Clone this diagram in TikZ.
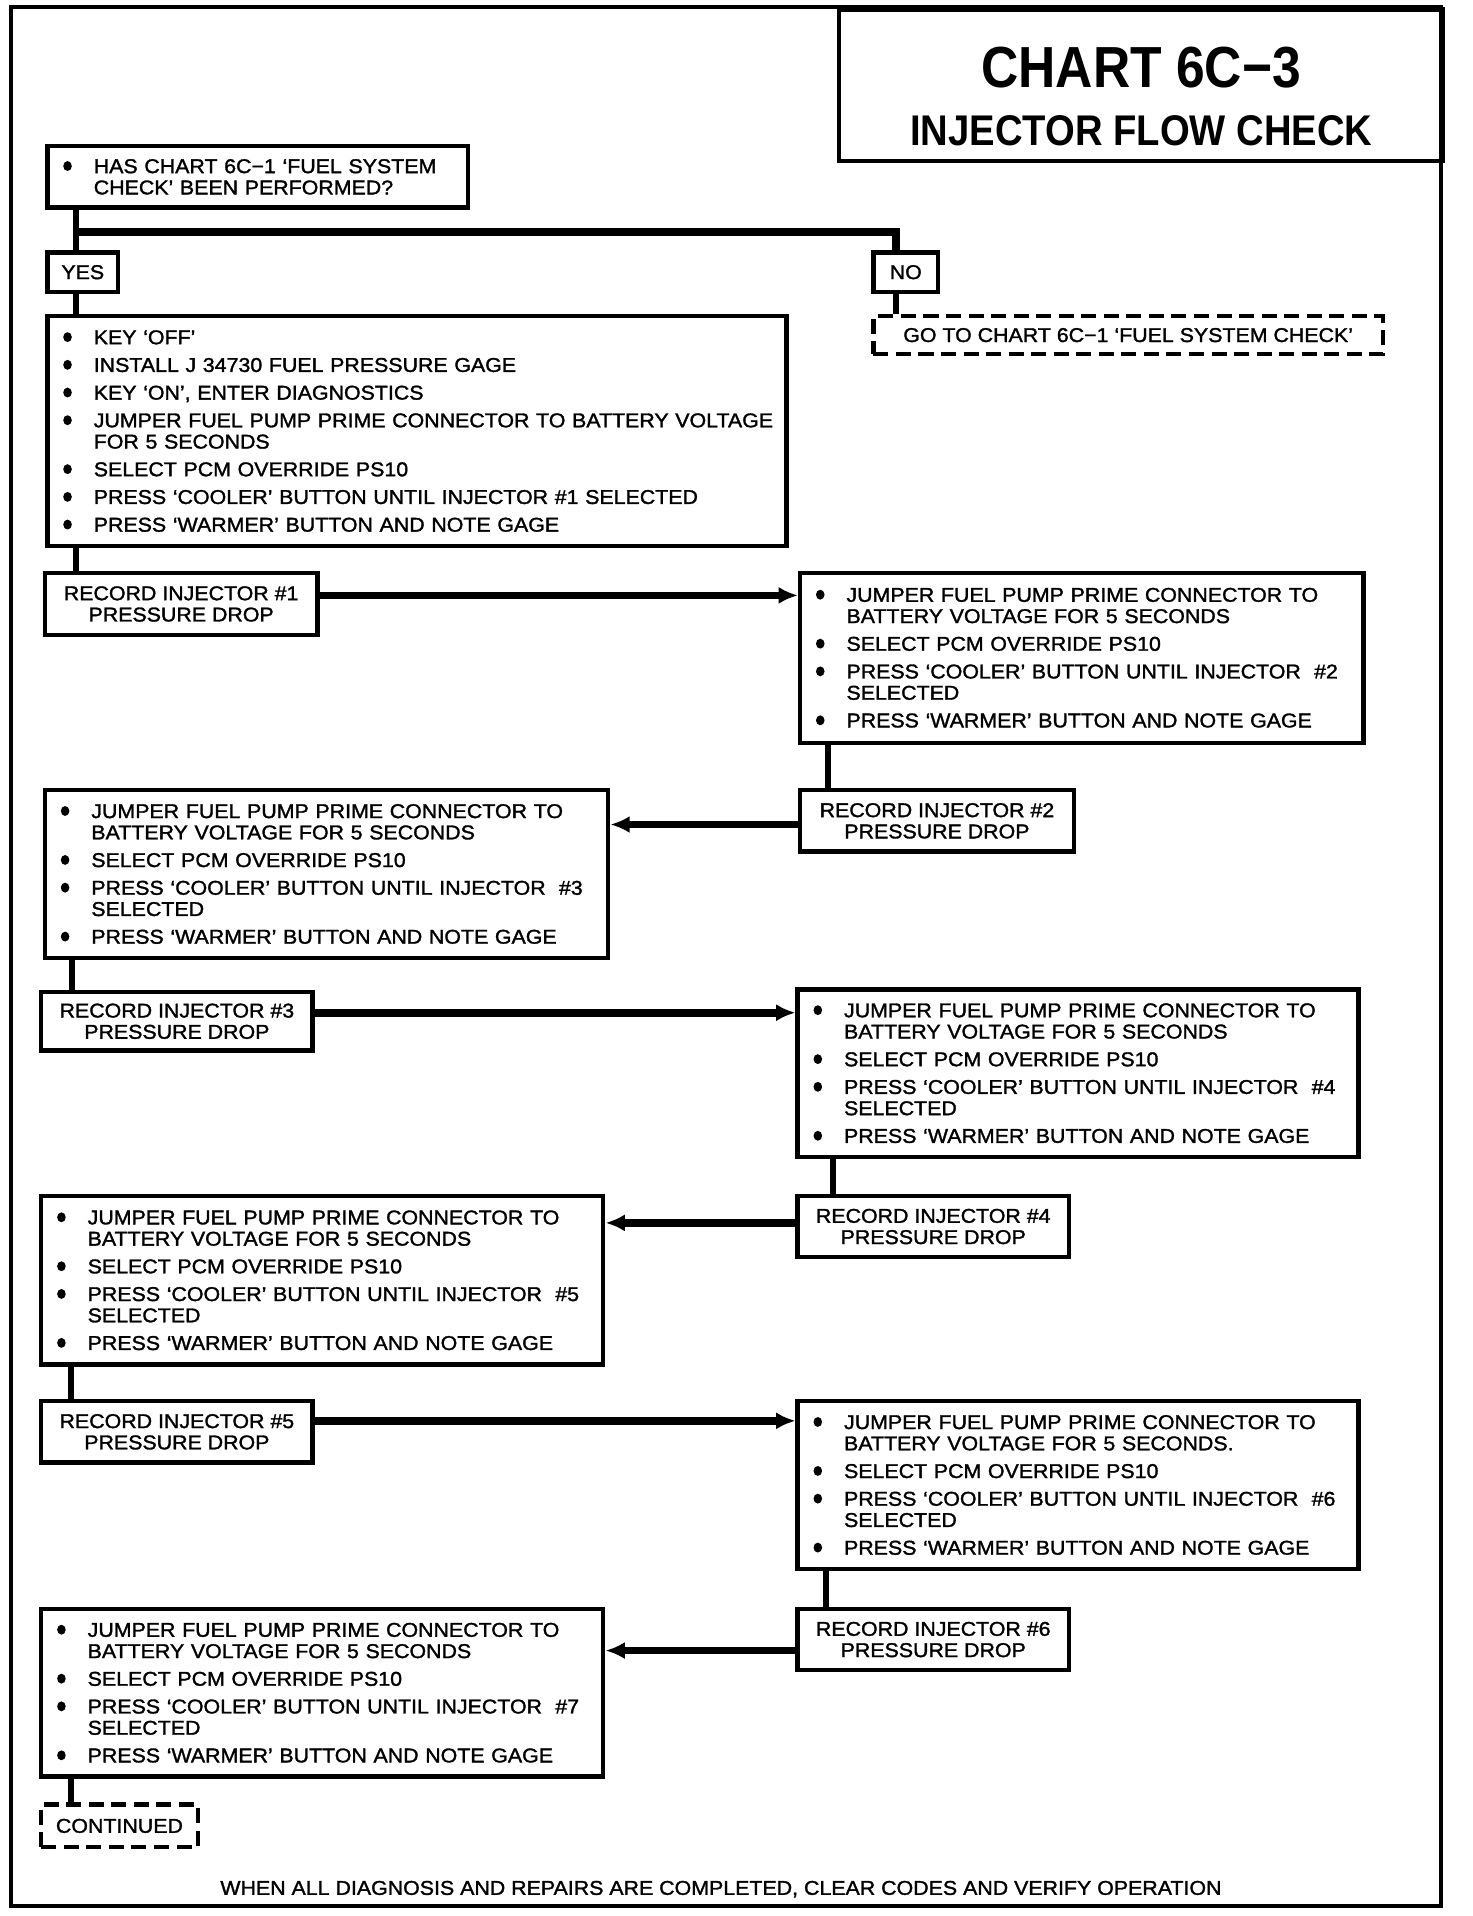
\documentclass[tikz,border=0pt]{standalone}
\usepackage{fontspec}
\setmainfont[FakeStretch=1.07, FakeBold=1.5]{Liberation Sans}
\newfontfamily\titlefont[FakeStretch=0.89]{Liberation Sans}
\usetikzlibrary{arrows.meta, positioning}

\newlength\px
\setlength\px{0.02cm}
\newcommand{\bodyfnt}{\fontsize{9.3}{9.9}\selectfont}
\newcommand{\bul}{\hspace*{13\px}\makebox[25\px][l]{\tikz[baseline=-3.3pt]\fill (0,0) ellipse (2pt and 2.3pt);}}
\newcommand{\ind}{\hspace*{38\px}}

\tikzset{
  box/.style={draw, line width=2pt, anchor=north west, inner sep=0pt, font=\bodyfnt},
  listbox/.style={box, align=left},
  recbox/.style={box, align=center},
  dashbox/.style={box, dash pattern=on 7pt off 3.5pt},
  link/.style={line width=2.8pt},
  branch/.style={line width=3.6pt},
  flow/.style={line width=3.6pt, -{Latex[length=9pt,width=8pt]}},
}

\begin{document}
\begin{tikzpicture}[x=0.02cm, y=-0.02cm]
    \useasboundingbox (0,0) rectangle (1205,1568);
    \draw[line width=2pt] (9,6) rectangle (1179,1560);

    % title
    \node[box, minimum width=494\px, minimum height=124\px] (title) at (685,6) {};
    \node[font=\titlefont\bfseries\fontsize{27}{30}\selectfont] (chart) at (934,55) {CHART 6C−3};
    \node[font=\titlefont\bfseries\fontsize{20}{22}\selectfont] (name) at (934,107) {INJECTOR FLOW CHECK};

    % question
    \node[listbox, text width=344\px, minimum height=50\px] (q) at (37,118)
        {\bul HAS CHART 6C−1 `FUEL SYSTEM\\\ind CHECK' BEEN PERFORMED?};
    \node[recbox, minimum width=58\px, minimum height=32\px] (yes) at (37,205) {YES};
    \node[recbox, minimum width=53\px, minimum height=32\px] (no) at (713,205) {NO};
    \node[dashbox, minimum width=417\px, minimum height=31\px] (goto) at (713,257)
        {GO TO CHART 6C−1 `FUEL SYSTEM CHECK'};

    % injector 1
    \node[listbox, text width=605\px, minimum height=188\px] (a) at (37,257)
        {\bul KEY `OFF'\\[3pt]
         \bul INSTALL J 34730 FUEL PRESSURE GAGE\\[3pt]
         \bul KEY `ON', ENTER DIAGNOSTICS\\[3pt]
         \bul JUMPER FUEL PUMP PRIME CONNECTOR TO BATTERY VOLTAGE\\\ind FOR 5 SECONDS\\[3pt]
         \bul SELECT PCM OVERRIDE PS10\\[3pt]
         \bul PRESS `COOLER' BUTTON UNTIL INJECTOR \#1 SELECTED\\[3pt]
         \bul PRESS `WARMER' BUTTON AND NOTE GAGE};
    \node[recbox, minimum width=223\px, minimum height=51\px] (r1) at (35,467)
        {RECORD INJECTOR \#1\\PRESSURE DROP};

    % injector 2
    \node[listbox, text width=461\px, minimum height=139\px] (b2) at (653,467)
        {\bul JUMPER FUEL PUMP PRIME CONNECTOR TO\\\ind BATTERY VOLTAGE FOR 5 SECONDS\\[3pt]
         \bul SELECT PCM OVERRIDE PS10\\[3pt]
         \bul PRESS `COOLER' BUTTON UNTIL INJECTOR\ \ \#2\\\ind SELECTED\\[3pt]
         \bul PRESS `WARMER' BUTTON AND NOTE GAGE};
    \node[recbox, minimum width=224\px, minimum height=50\px] (r2) at (653,645)
        {RECORD INJECTOR \#2\\PRESSURE DROP};

    % injector 3
    \node[listbox, text width=461\px, minimum height=137\px] (b3) at (35,645)
        {\bul JUMPER FUEL PUMP PRIME CONNECTOR TO\\\ind BATTERY VOLTAGE FOR 5 SECONDS\\[3pt]
         \bul SELECT PCM OVERRIDE PS10\\[3pt]
         \bul PRESS `COOLER' BUTTON UNTIL INJECTOR\ \ \#3\\\ind SELECTED\\[3pt]
         \bul PRESS `WARMER' BUTTON AND NOTE GAGE};
    \node[recbox, minimum width=222\px, minimum height=48\px] (r3) at (32,810)
        {RECORD INJECTOR \#3\\PRESSURE DROP};

    % injector 4
    \node[listbox, text width=459\px, minimum height=137\px] (b4) at (651,808)
        {\bul JUMPER FUEL PUMP PRIME CONNECTOR TO\\\ind BATTERY VOLTAGE FOR 5 SECONDS\\[3pt]
         \bul SELECT PCM OVERRIDE PS10\\[3pt]
         \bul PRESS `COOLER' BUTTON UNTIL INJECTOR\ \ \#4\\\ind SELECTED\\[3pt]
         \bul PRESS `WARMER' BUTTON AND NOTE GAGE};
    \node[recbox, minimum width=222\px, minimum height=50\px] (r4) at (651,977)
        {RECORD INJECTOR \#4\\PRESSURE DROP};

    % injector 5
    \node[listbox, text width=460\px, minimum height=138\px] (b5) at (32,977)
        {\bul JUMPER FUEL PUMP PRIME CONNECTOR TO\\\ind BATTERY VOLTAGE FOR 5 SECONDS\\[3pt]
         \bul SELECT PCM OVERRIDE PS10\\[3pt]
         \bul PRESS `COOLER' BUTTON UNTIL INJECTOR\ \ \#5\\\ind SELECTED\\[3pt]
         \bul PRESS `WARMER' BUTTON AND NOTE GAGE};
    \node[recbox, minimum width=222\px, minimum height=50\px] (r5) at (32,1145)
        {RECORD INJECTOR \#5\\PRESSURE DROP};

    % injector 6
    \node[listbox, text width=459\px, minimum height=137\px] (b6) at (651,1145)
        {\bul JUMPER FUEL PUMP PRIME CONNECTOR TO\\\ind BATTERY VOLTAGE FOR 5 SECONDS.\\[3pt]
         \bul SELECT PCM OVERRIDE PS10\\[3pt]
         \bul PRESS `COOLER' BUTTON UNTIL INJECTOR\ \ \#6\\\ind SELECTED\\[3pt]
         \bul PRESS `WARMER' BUTTON AND NOTE GAGE};
    \node[recbox, minimum width=222\px, minimum height=50\px] (r6) at (651,1315)
        {RECORD INJECTOR \#6\\PRESSURE DROP};

    % injector 7
    \node[listbox, text width=460\px, minimum height=137\px] (b7) at (32,1315)
        {\bul JUMPER FUEL PUMP PRIME CONNECTOR TO\\\ind BATTERY VOLTAGE FOR 5 SECONDS\\[3pt]
         \bul SELECT PCM OVERRIDE PS10\\[3pt]
         \bul PRESS `COOLER' BUTTON UNTIL INJECTOR\ \ \#7\\\ind SELECTED\\[3pt]
         \bul PRESS `WARMER' BUTTON AND NOTE GAGE};
    \node[dashbox, minimum width=128\px, minimum height=35\px] (cont) at (32,1475) {CONTINUED};

    \node[font=\bodyfnt] (note) at (590,1546)
        {WHEN ALL DIAGNOSIS AND REPAIRS ARE COMPLETED, CLEAR CODES AND VERIFY OPERATION};

    % yes / no
    \coordinate (fork) at (62,190);
    \draw[link] ([xshift=25\px]q.south west) -- ([xshift=25\px]yes.north west);
    \draw[branch] (fork) -| ([xshift=20\px]no.north west);
    \draw[link] ([xshift=20\px]no.south west) coordinate (t) -- (t |- goto.north);
    \draw[link] ([xshift=25\px]yes.south west) coordinate (t) -- (t |- a.north);

    % down the chart
    \draw[link] ([xshift=25\px]a.south west) coordinate (t) -- (t |- r1.north);
    \draw[link] ([xshift=25\px]b2.south west) coordinate (t) -- (t |- r2.north);
    \draw[link] ([xshift=24\px]b3.south west) coordinate (t) -- (t |- r3.north);
    \draw[link] ([xshift=31\px]b4.south west) coordinate (t) -- (t |- r4.north);
    \draw[link] ([xshift=26\px]b5.south west) coordinate (t) -- (t |- r5.north);
    \draw[link] ([xshift=25\px]b6.south west) coordinate (t) -- (t |- r6.north);
    \draw[link] ([xshift=26\px]b7.south west) coordinate (t) -- (t |- cont.north);

    \draw[flow] ([yshift=7\px]r1.east) coordinate (t) -- (t -| b2.west);
    \draw[flow] ([yshift=-3\px]r2.west) coordinate (t) -- (t -| b3.east);
    \draw[flow] ([yshift=7\px]r3.east) coordinate (t) -- (t -| b4.west);
    \draw[flow] ([yshift=3\px]r4.west) coordinate (t) -- (t -| b5.east);
    \draw[flow] ([yshift=9\px]r5.east) coordinate (t) -- (t -| b6.west);
    \draw[flow] ([yshift=-9\px]r6.west) coordinate (t) -- (t -| b7.east);
\end{tikzpicture}
\end{document}
